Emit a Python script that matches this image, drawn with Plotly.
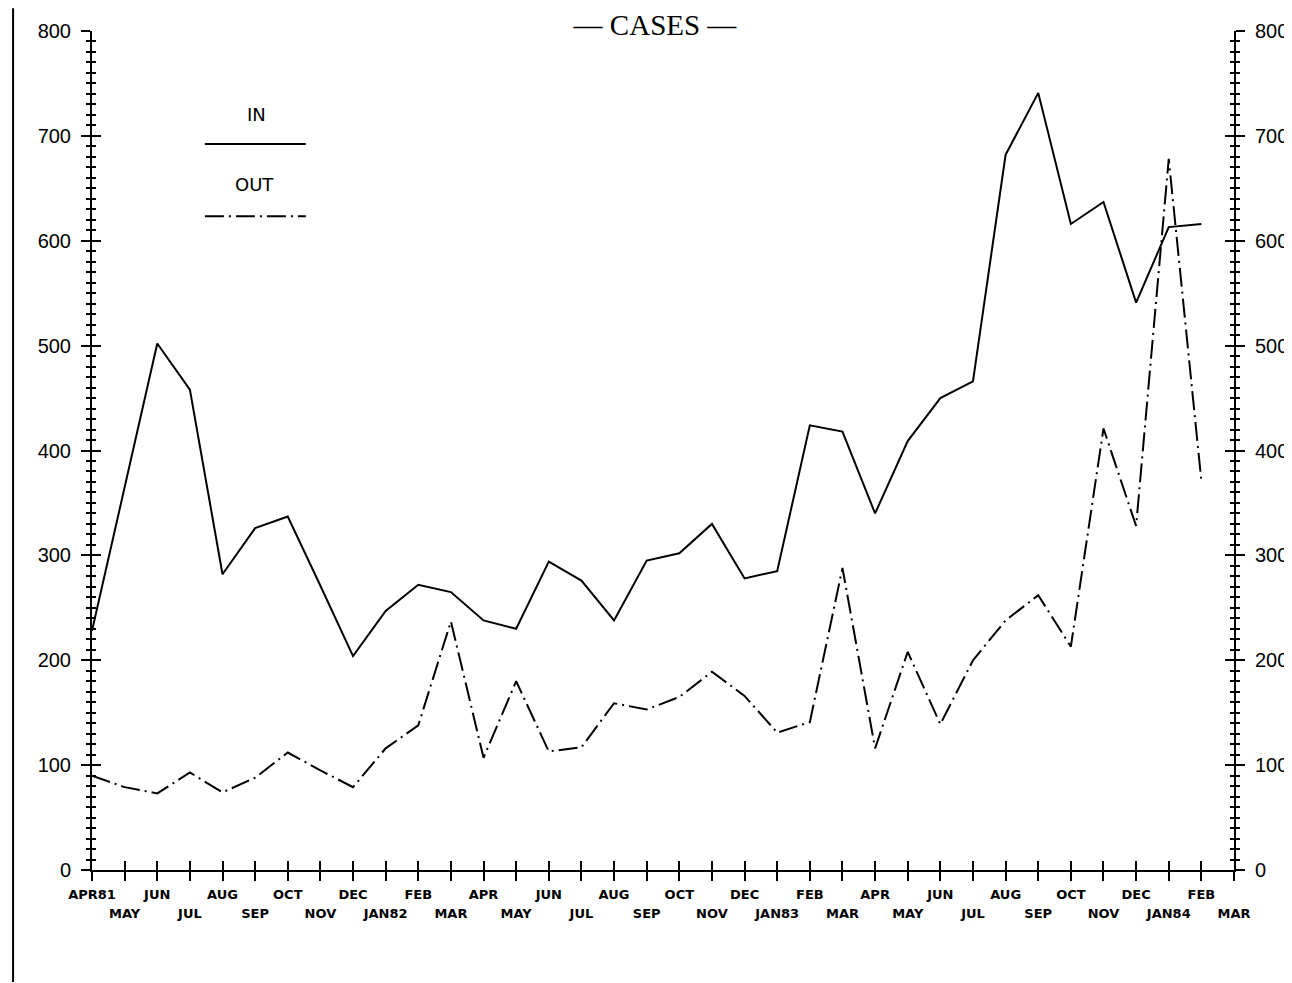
import plotly.graph_objects as go

months = ["APR81", "MAY", "JUN", "JUL", "AUG", "SEP", "OCT", "NOV", "DEC", "JAN82",
          "FEB", "MAR", "APR", "MAY", "JUN", "JUL", "AUG", "SEP", "OCT", "NOV",
          "DEC", "JAN83", "FEB", "MAR", "APR", "MAY", "JUN", "JUL", "AUG", "SEP",
          "OCT", "NOV", "DEC", "JAN84", "FEB", "MAR"]

cases_in = [228, 366, 502, 458, 282, 326, 337, 271, 204, 247,
            272, 265, 238, 230, 294, 276, 238, 295, 302, 330,
            278, 285, 424, 418, 340, 409, 450, 466, 682, 741,
            616, 637, 541, 613, 616]

cases_out = [90, 79, 73, 93, 74, 88, 112, 95, 79, 116,
             138, 237, 107, 180, 113, 117, 159, 153, 165, 189,
             166, 131, 141, 288, 116, 208, 139, 200, 238, 262,
             213, 421, 328, 678, 371]

y_ticks = [0, 100, 200, 300, 400, 500, 600, 700, 800]

idx = list(range(len(months)))
even_text = [m if i % 2 == 0 else "" for i, m in enumerate(months)]
odd_text = [m if i % 2 == 1 else "" for i, m in enumerate(months)]

DASHDOT = "19px,5px,2px,5px"

fig = go.Figure()
fig.add_trace(go.Scatter(x=idx[:len(cases_in)], y=cases_in, mode="lines",
                         line=dict(color="black", width=2), name="IN", showlegend=False))
fig.add_trace(go.Scatter(x=idx[:len(cases_out)], y=cases_out, mode="lines",
                         line=dict(color="black", width=2, dash=DASHDOT),
                         name="OUT", showlegend=False))
# invisible helpers so overlay axes are drawn
for xa, ya in [("x2", "y"), ("x", "y2"), ("x", "y3"), ("x", "y4")]:
    fig.add_trace(go.Scatter(x=[0], y=[0], xaxis=xa, yaxis=ya, mode="markers",
                             marker=dict(opacity=0), showlegend=False, hoverinfo="skip"))

tickfont_x = dict(family="DejaVu Sans", size=13, color="black", weight="bold")
tickfont_y = dict(family="Liberation Sans", size=20, color="black")

common_y = dict(range=[0, 800], tickvals=y_ticks, showgrid=False, zeroline=False,
                linecolor="black", linewidth=2, tickwidth=2, ticklen=9, tickcolor="black",
                minor=dict(dtick=10, ticklen=4, tickwidth=2, tickcolor="black"))

# page is offset by the 8px body margin
OFF = 8
fig.update_layout(
    width=1292, height=983,
    margin=dict(l=92 - OFF, r=1292 - 1143 - (92 - OFF), t=23 - OFF, b=983 - 847 - (23 - OFF)),
    plot_bgcolor="white", paper_bgcolor="white",
    title=dict(text="— CASES —", x=(655 - OFF) / 1292, xanchor="center",
               y=1 - (25 - OFF) / 983, yanchor="middle",
               xref="container", yref="container",
               font=dict(family="Liberation Serif", size=29, color="black")),
    xaxis=dict(range=[0, 35], tickvals=idx, ticktext=even_text, ticks="outside",
               ticklen=9, tickwidth=2, tickcolor="black", showline=True, linecolor="black",
               linewidth=2, showgrid=False, zeroline=False, tickfont=tickfont_x,
               ticklabelstandoff=2),
    xaxis2=dict(range=[0, 35], overlaying="x", anchor="y", side="bottom", tickvals=idx,
                ticktext=odd_text, ticks="inside", ticklen=9, tickwidth=2, tickcolor="black",
                showline=False, showgrid=False, zeroline=False, tickfont=tickfont_x,
                ticklabelstandoff=34),
    yaxis=dict(**common_y, side="left", ticks="outside", showline=True,
               tickfont=tickfont_y, ticklabelstandoff=6),
    yaxis2=dict(**common_y, side="right", overlaying="y", anchor="x", ticks="outside",
                showline=True, tickfont=tickfont_y, ticklabelstandoff=6),
    yaxis3=dict(**common_y, side="left", overlaying="y", anchor="x", ticks="inside",
                showline=False, showticklabels=False),
    yaxis4=dict(**common_y, side="right", overlaying="y", anchor="x", ticks="inside",
                showline=False, showticklabels=False),
)
fig.layout.yaxis.minor.ticks = "outside"
fig.layout.yaxis2.minor.ticks = "outside"
fig.layout.yaxis3.minor.ticks = "inside"
fig.layout.yaxis4.minor.ticks = "inside"


def px_x(p):
    return (p - 92) / 1143


def px_y(p):
    return (870 - p) / 847


legend_font = dict(family="DejaVu Sans", size=18, color="black")
fig.add_annotation(text="IN", x=px_x(257), y=px_y(107), xref="paper", yref="paper",
                   xanchor="center", yanchor="middle", showarrow=False, font=legend_font)
fig.add_annotation(text="OUT", x=px_x(255), y=px_y(178), xref="paper", yref="paper",
                   xanchor="center", yanchor="middle", showarrow=False, font=legend_font)
fig.add_shape(type="line", xref="paper", yref="paper", x0=px_x(205), x1=px_x(306),
              y0=px_y(137), y1=px_y(137), line=dict(color="black", width=2))
fig.add_shape(type="line", xref="paper", yref="paper", x0=px_x(205), x1=px_x(306),
              y0=px_y(210), y1=px_y(210), line=dict(color="black", width=2, dash=DASHDOT))
# page border line on the far left
fig.add_shape(type="line", xref="paper", yref="paper", x0=px_x(13), x1=px_x(13),
              y0=px_y(0), y1=px_y(983), line=dict(color="black", width=2))

fig.write_html("out.html")
